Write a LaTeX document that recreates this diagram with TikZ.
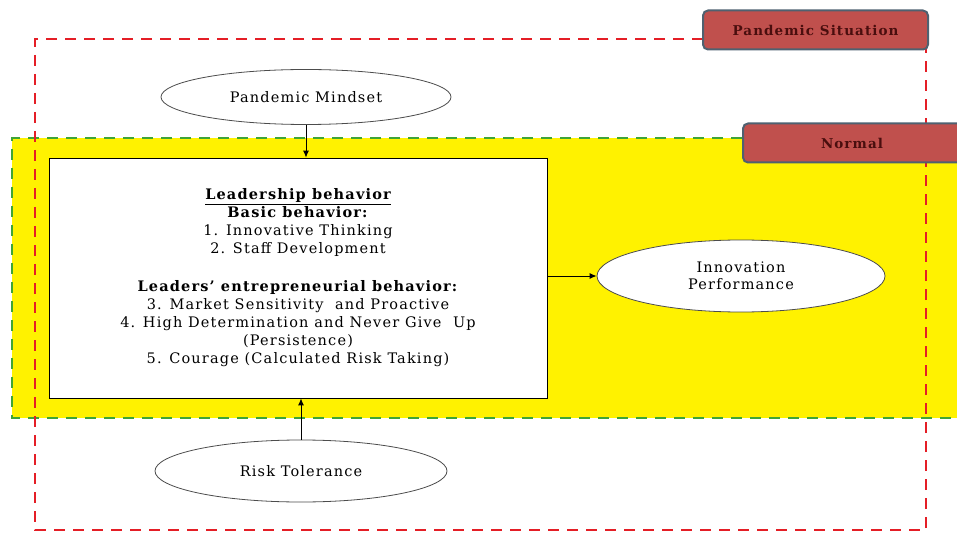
\documentclass[tikz,border=0pt]{standalone}
\usepackage{fontspec}
\setmainfont{DejaVu Serif}[LetterSpace=8]
\usetikzlibrary{shapes.geometric,arrows.meta}
\definecolor{redline}{HTML}{E41E26}
\definecolor{greenline}{HTML}{3FA535}
\definecolor{labelfill}{HTML}{C0504D}
\definecolor{labelborder}{HTML}{4F6170}
\definecolor{labeltext}{HTML}{4A0E0E}
\tikzset{
  x=1pt,y=-1pt,
  ovalnode/.style={ellipse,draw=black!70,fill=white,line width=0.8pt,font=\fontsize{14.5}{17}\selectfont,align=center,inner sep=0pt},
  tagbox/.style={rounded corners=5pt,draw=labelborder,fill=labelfill,line width=2pt,font=\fontsize{13.5}{15}\selectfont\bfseries,text=labeltext},
  conn/.style={-{Latex[length=7pt,width=6pt]},line width=0.9pt,black},
}
\begin{document}
\begin{tikzpicture}
\useasboundingbox (0,0) rectangle (957,534);
\begin{scope}
\clip (0,0) rectangle (957,534);
% green / yellow normal region
\fill[yellow] (12,138) rectangle (970,418);
\draw[greenline,line width=2.5pt,dash pattern=on 11pt off 8pt] (970,138) -- (12,138) -- (12,418) -- (970,418);
% red pandemic region
\draw[redline,line width=2.5pt,dash pattern=on 11pt off 8pt] (703,39) -- (35,39) -- (35,530) -- (926,530) -- (926,39);
% labels
\node[tagbox,minimum width=225pt,minimum height=39pt] (ps) at (815.5,30) {Pandemic Situation};
\node[tagbox,minimum width=240pt,minimum height=39pt,anchor=west] (nm) at (742,143) {};
\node[font=\fontsize{13.5}{15}\selectfont\bfseries,text=labeltext] (nmt) at (852,143) {Normal};
\end{scope}
% leadership box
\node[draw=black,fill=white,line width=0.8pt,minimum width=498pt,minimum height=240pt,inner sep=0pt] (lb) at (298,278) {};
\node[align=center,font=\fontsize{14.5}{18}\selectfont] (lbt) at (298,278) {%
\textbf{\underline{Leadership behavior}}\\
\textbf{Basic behavior:}\\
1. Innovative Thinking\\
2. Staff Development\\[20pt]
\textbf{Leaders' entrepreneurial behavior:}\\
3. Market Sensitivity\ \ and Proactive\\
4. High Determination and Never Give\ \ Up\\
(Persistence)\\
5. Courage (Calculated Risk Taking)};
% ellipses
\node[ovalnode,minimum width=290pt,minimum height=55pt] (pm) at (306,97) {Pandemic Mindset};
\node[ovalnode,minimum width=292pt,minimum height=62pt] (rt) at (301,471) {Risk Tolerance};
\node[ovalnode,minimum width=288pt,minimum height=72pt] (ip) at (741,276) {Innovation\\Performance};
% connectors
\draw[conn] (pm.south) -- (pm.south |- lb.north);
\draw[conn] (rt.north) -- (rt.north |- lb.south);
\draw[conn] (lb.east |- ip.west) -- (ip.west);
\end{tikzpicture}
\end{document}
